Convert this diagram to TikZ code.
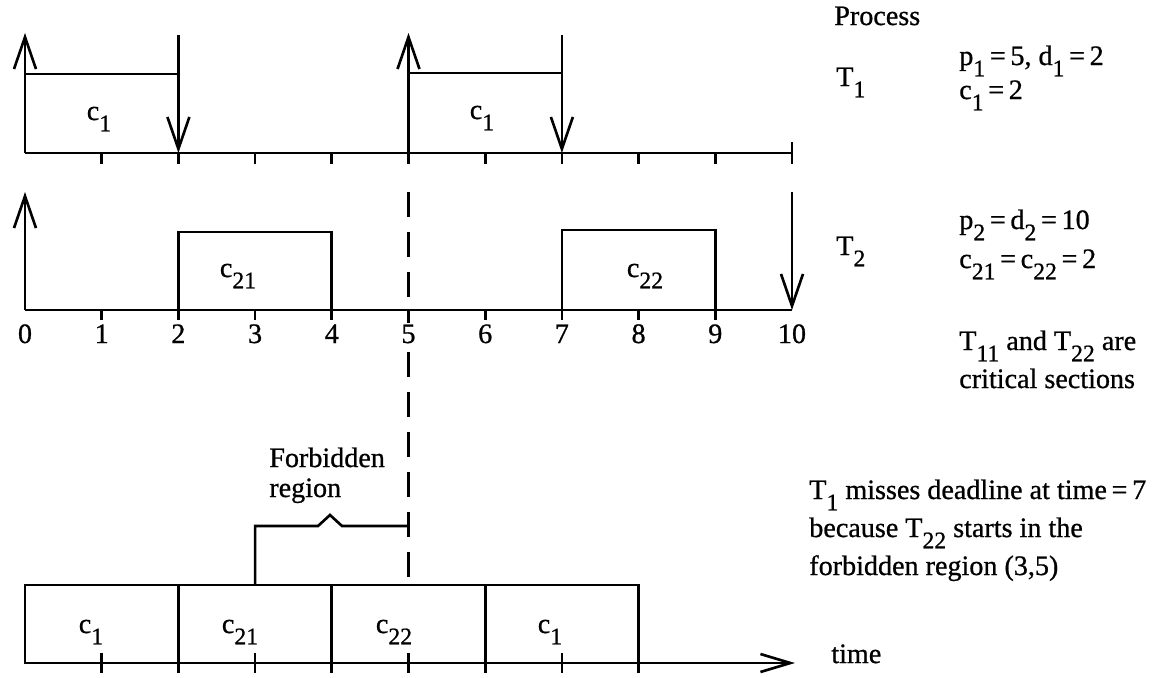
\documentclass[tikz,border=0pt]{standalone}
\usepackage{fontspec}
\setmainfont{Liberation Serif}[FakeBold=0.8]
\usetikzlibrary{arrows.meta}
\newcommand{\sub}[1]{\raisebox{-0.4em}{\fontsize{13.5}{14}\selectfont #1}}

\begin{document}
\begin{tikzpicture}[x=0.02cm,y=-0.02cm,line width=1.5pt,
    font=\fontsize{16}{19}\selectfont,
    evt/.style={-{Straight Barb[length=0.64cm,width=0.44cm]}},
    txt/.style={anchor=base west,inner sep=0pt},
    lab/.style={anchor=base,inner sep=0pt}]
  \useasboundingbox (0,0) rectangle (1163,677);
  % T1: p=5, d=2
  \coordinate (A0) at (25,153);
  \coordinate (A10) at (792,153);
  \draw (A0) -- (A10);
  \draw (792,142) -- (792,164);
  \foreach \t in {1,...,9} \draw ({25+76.7*\t},153) -- ++(0,11);
  \draw[evt] (A0) -- (25,33);
  \draw[evt] (408.5,153) -- (408.5,33);
  \draw[evt] (178.4,35) -- (178.4,153);
  \draw[evt] (561.9,35) -- (561.9,153);
  \draw (25,74) -- (178.4,74);
  \draw (408.5,73) -- (561.9,73);
  \node[lab] (c1a) at (99,120) {c\sub{1}};
  \node[lab] (c1b) at (482,119) {c\sub{1}};
  % T2: p=d=10
  \coordinate (B0) at (25,310);
  \coordinate (B10) at (792,310);
  \draw[dash pattern=on 0.5cm off 0.3cm] (408.5,192) -- (408.5,585);
  \draw (B0) -- (B10);
  \foreach \t in {1,...,9} \draw ({25+76.7*\t},310) -- ++(0,10);
  \draw[evt] (B0) -- (25,192);
  \draw[evt] (792,192) -- (B10);
  \draw (178.4,310) |- (331.8,232) -- (331.8,310);
  \draw (561.9,310) |- (715.3,230) -- (715.3,310);
  \node[lab] (c21) at (238,277) {c\sub{21}};
  \node[lab] (c22) at (645,277) {c\sub{22}};
  \foreach \t in {0,...,10}
    \node[lab,fill=white,inner sep=1pt] at ({25+76.7*\t},343) {\t};
  % schedule
  \coordinate (C0) at (25,663);
  \coordinate (C1) at (795,663);
  \draw (25,585) rectangle (638.6,663);
  \foreach \t in {2,4,6} \draw ({25+76.7*\t},585) -- ({25+76.7*\t},663);
  \foreach \t in {1,...,8} \draw ({25+76.7*\t},653) -- ++(0,20);
  \draw[-{Straight Barb[length=0.6cm,width=0.36cm]}] (C0) -- (C1);
  \draw (255.1,585) -- (255.1,526) -- (318,526) -- (330,515) -- (342,526) -- (408.5,526);
  \node[lab] at (91,633) {c\sub{1}};
  \node[lab] at (240,633) {c\sub{21}};
  \node[lab] at (394,633) {c\sub{22}};
  \node[lab] at (550,633) {c\sub{1}};
  \node[txt] (forb) at (268,467) {Forbidden};
  \node[txt] (regn) at (268,497) {region};
  \node[txt] (time) at (830,663) {time};
  % legend
  \node[txt] (proc) at (833,25) {Process};
  \node[txt] (T1) at (835,86) {T\sub{1}};
  \node[txt] at (958,65) {p\sub{1}\,=\,5, d\sub{1}\,=\,2};
  \node[txt] at (958,99) {c\sub{1}\,=\,2};
  \node[txt] (T2) at (835,255) {T\sub{2}};
  \node[txt] at (958,229) {p\sub{2}\,=\,d\sub{2}\,=\,10};
  \node[txt] at (958,268) {c\sub{21}\,=\,c\sub{22}\,=\,2};
  \node[txt] at (958,350) {T\sub{11} and T\sub{22} are};
  \node[txt] at (958,388) {critical sections};
  \node[txt] at (808,499) {T\sub{1} misses deadline at time\,=\,7};
  \node[txt] at (808,537) {because T\sub{22} starts in the};
  \node[txt] at (808,575) {forbidden region (3,5)};
\end{tikzpicture}
\end{document}
